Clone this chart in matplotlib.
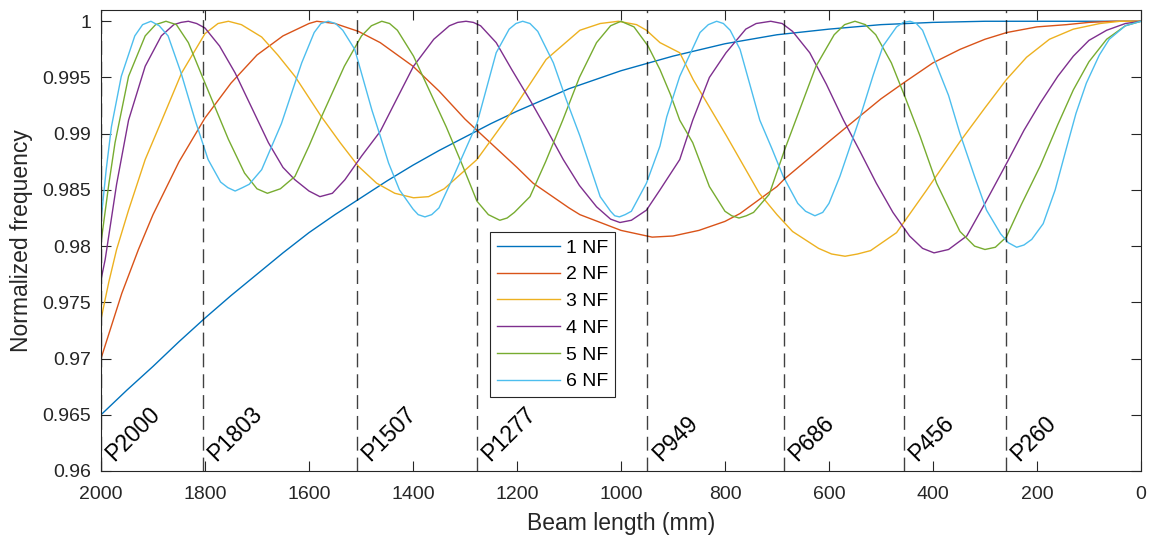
import numpy as np
import matplotlib
matplotlib.use("Agg")
import matplotlib.pyplot as plt

plt.rcParams['font.family'] = ['Liberation Sans', 'DejaVu Sans']

# ---- data (beam length in mm, normalized frequency) ----
x_nf1 = [2000, 1950, 1900, 1850, 1800, 1750, 1700, 1650, 1600, 1550, 1500, 1450,
         1400, 1350, 1300, 1250, 1200, 1100, 1000, 900, 800, 700, 600, 500, 400,
         300, 200, 100, 0]
y_nf1 = [0.9650, 0.9672, 0.9693, 0.9715, 0.9736, 0.9756, 0.9775, 0.9794, 0.9812,
         0.9828, 0.9843, 0.9858, 0.9872, 0.9885, 0.9897, 0.9909, 0.9920, 0.9940,
         0.9956, 0.9969, 0.9980, 0.9988, 0.9993, 0.9997, 0.9999, 1.0000, 1.0000,
         1.0000, 1.0000]

x_nf2 = [2000, 1960, 1928, 1900, 1850, 1800, 1750, 1700, 1650, 1600, 1585, 1550,
         1505, 1463, 1400, 1350, 1300, 1277, 1200, 1169, 1100, 1079, 1000, 940,
         900, 850, 800, 771, 700, 685, 600, 566, 500, 454, 400, 348, 300, 258,
         200, 143, 100, 50, 0]
y_nf2 = [0.9700, 0.9758, 0.9797, 0.9828, 0.9875, 0.9914, 0.9945, 0.9970, 0.9987,
         0.9998, 1.0000, 0.9998, 0.9991, 0.9981, 0.9960, 0.9938, 0.9913, 0.9903,
         0.9870, 0.9856, 0.9834, 0.9828, 0.9814, 0.9808, 0.9809, 0.9814, 0.9822,
         0.9829, 0.9853, 0.9860, 0.9893, 0.9906, 0.9931, 0.9946, 0.9963, 0.9975,
         0.9984, 0.9990, 0.9995, 0.9997, 0.9999, 1.0000, 1.0000]

x_nf3 = [2000, 1985, 1970, 1947, 1915, 1883, 1845, 1800, 1775, 1755, 1730, 1691,
         1660, 1627, 1576, 1540, 1505, 1470, 1435, 1399, 1370, 1340, 1277, 1208,
         1144, 1079, 1040, 1005, 970, 951, 925, 887, 861, 797, 734, 700, 670, 620,
         595, 569, 545, 520, 470, 412, 348, 300, 259, 220, 176, 130, 79, 40, 0]
y_nf3 = [0.9735, 0.9768, 0.9797, 0.9832, 0.9877, 0.9912, 0.9954, 0.9989, 0.9998,
         1.0000, 0.9997, 0.9986, 0.9970, 0.9951, 0.9915, 0.9892, 0.9871, 0.9856,
         0.9847, 0.9843, 0.9844, 0.9851, 0.9877, 0.9921, 0.9966, 0.9992, 0.9998,
         1.0000, 0.9997, 0.9992, 0.9981, 0.9972, 0.9948, 0.9898, 0.9847, 0.9828,
         0.9813, 0.9798, 0.9793, 0.9791, 0.9793, 0.9796, 0.9812, 0.9850, 0.9893,
         0.9923, 0.9948, 0.9968, 0.9984, 0.9993, 0.9998, 1.0000, 1.0000]

x_nf4 = [2000, 1992, 1970, 1947, 1915, 1884, 1860, 1846, 1832, 1816, 1800, 1772,
         1742, 1710, 1678, 1650, 1627, 1600, 1579, 1555, 1531, 1499, 1463, 1430,
         1399, 1360, 1330, 1314, 1298, 1284, 1270, 1240, 1210, 1175, 1143, 1111,
         1080, 1047, 1020, 1002, 980, 951, 925, 887, 862, 830, 798, 760, 740, 712,
         690, 670, 637, 605, 572, 540, 509, 477, 445, 420, 398, 370, 335, 300,
         258, 225, 194, 160, 130, 100, 66, 30, 0]
y_nf4 = [0.9770, 0.9788, 0.9855, 0.9912, 0.9960, 0.9987, 0.9997, 0.9999, 1.0000,
         0.9998, 0.9994, 0.9978, 0.9954, 0.9923, 0.9892, 0.9870, 0.9859, 0.9849,
         0.9844, 0.9847, 0.9859, 0.9880, 0.9902, 0.9932, 0.9960, 0.9984, 0.9996,
         0.9999, 1.0000, 0.9999, 0.9996, 0.9981, 0.9957, 0.9930, 0.9904, 0.9877,
         0.9854, 0.9835, 0.9824, 0.9821, 0.9823, 0.9832, 0.9850, 0.9877, 0.9912,
         0.9950, 0.9972, 0.9993, 0.9998, 1.0000, 0.9998, 0.9991, 0.9972, 0.9944,
         0.9912, 0.9884, 0.9856, 0.9830, 0.9809, 0.9798, 0.9794, 0.9797, 0.9809,
         0.9838, 0.9874, 0.9903, 0.9927, 0.9951, 0.9969, 0.9983, 0.9992, 0.9998,
         1.0000]

x_nf5 = [2000, 1985, 1973, 1947, 1915, 1895, 1875, 1855, 1832, 1800, 1755, 1724,
         1700, 1680, 1655, 1627, 1600, 1576, 1532, 1499, 1480, 1460, 1445, 1430,
         1399, 1370, 1336, 1305, 1277, 1255, 1233, 1219, 1205, 1175, 1145, 1112,
         1080, 1047, 1020, 1000, 975, 948, 925, 905, 887, 862, 830, 800, 787, 773,
         759, 745, 715, 685, 655, 625, 590, 570, 550, 530, 510, 480, 454, 425,
         393, 348, 320, 300, 280, 259, 230, 194, 160, 130, 100, 66, 30, 0]
y_nf5 = [0.9803, 0.9855, 0.9892, 0.9951, 0.9987, 0.9997, 1.0000, 0.9997, 0.9981,
         0.9945, 0.9895, 0.9865, 0.9851, 0.9847, 0.9851, 0.9862, 0.9889, 0.9915,
         0.9960, 0.9987, 0.9996, 1.0000, 0.9998, 0.9992, 0.9969, 0.9940, 0.9906,
         0.9872, 0.9840, 0.9828, 0.9823, 0.9825, 0.9830, 0.9844, 0.9875, 0.9912,
         0.9950, 0.9981, 0.9996, 1.0000, 0.9995, 0.9978, 0.9957, 0.9935, 0.9912,
         0.9892, 0.9853, 0.9831, 0.9827, 0.9825, 0.9827, 0.9830, 0.9846, 0.9886,
         0.9923, 0.9960, 0.9988, 0.9997, 1.0000, 0.9997, 0.9988, 0.9963, 0.9933,
         0.9898, 0.9856, 0.9813, 0.9800, 0.9797, 0.9799, 0.9808, 0.9837, 0.9871,
         0.9908, 0.9939, 0.9964, 0.9984, 0.9996, 1.0000]

x_nf6 = [2000, 1990, 1980, 1961, 1935, 1920, 1904, 1888, 1871, 1846, 1819, 1794,
         1770, 1756, 1742, 1728, 1715, 1691, 1653, 1614, 1590, 1577, 1563, 1549,
         1535, 1512, 1479, 1463, 1447, 1426, 1400, 1390, 1377, 1364, 1350, 1322,
         1300, 1277, 1240, 1215, 1202, 1189, 1175, 1160, 1130, 1105, 1079, 1040,
         1020, 1012, 1003, 992, 980, 951, 925, 912, 887, 848, 832, 816, 803, 790,
         771, 733, 710, 688, 660, 645, 627, 612, 600, 579, 540, 515, 496, 470,
         457, 444, 432, 420, 400, 370, 348, 320, 297, 270, 255, 239, 225, 210,
         188, 165, 144, 125, 105, 80, 61, 30, 0]
y_nf6 = [0.9823, 0.9868, 0.9906, 0.9951, 0.9987, 0.9997, 1.0000, 0.9996, 0.9987,
         0.9954, 0.9912, 0.9877, 0.9857, 0.9852, 0.9849, 0.9852, 0.9855, 0.9868,
         0.9909, 0.9963, 0.9990, 0.9998, 1.0000, 0.9998, 0.9992, 0.9975, 0.9921,
         0.9898, 0.9874, 0.9850, 0.9833, 0.9828, 0.9826, 0.9828, 0.9834, 0.9862,
         0.9885, 0.9909, 0.9972, 0.9993, 0.9998, 1.0000, 0.9998, 0.9991, 0.9963,
         0.9930, 0.9898, 0.9844, 0.9831, 0.9827, 0.9826, 0.9828, 0.9831, 0.9856,
         0.9889, 0.9915, 0.9951, 0.9990, 0.9997, 1.0000, 0.9998, 0.9992, 0.9975,
         0.9912, 0.9887, 0.9862, 0.9838, 0.9831, 0.9827, 0.9830, 0.9838, 0.9862,
         0.9915, 0.9952, 0.9978, 0.9995, 0.9999, 1.0000, 0.9998, 0.9992, 0.9969,
         0.9934, 0.9900, 0.9862, 0.9832, 0.9811, 0.9803, 0.9799, 0.9801, 0.9806,
         0.9820, 0.9850, 0.9886, 0.9918, 0.9945, 0.9970, 0.9984, 0.9996, 1.0000]

series_names = ['1 NF', '2 NF', '3 NF', '4 NF', '5 NF', '6 NF']
series_x = [x_nf1, x_nf2, x_nf3, x_nf4, x_nf5, x_nf6]
series_y = [y_nf1, y_nf2, y_nf3, y_nf4, y_nf5, y_nf6]
colors = ['#0072BD', '#D95319', '#EDB120', '#7E2F8E', '#77AC30', '#4DBEEE']

# positions of the marked points along the beam
point_pos = [2000, 1803, 1507, 1277, 949, 686, 456, 260]
point_labels = ['P2000', 'P1803', 'P1507', 'P1277', 'P949', 'P686', 'P456', 'P260']

xticks = list(range(0, 2001, 200))
yticks = [0.96, 0.965, 0.97, 0.975, 0.98, 0.985, 0.99, 0.995, 1.0]

# ---- plot ----
fig = plt.figure(figsize=(11.49, 5.39), dpi=100)
ax = fig.add_axes([0.0879, 0.1262, 0.9051, 0.8552])

for xs, ys, name, c in zip(series_x, series_y, series_names, colors):
    ax.plot(xs, ys, color=c, lw=1.0, label=name)

for p, lab in zip(point_pos, point_labels):
    ax.axvline(p, color='black', lw=1.0, ls=(0, (10, 5)), alpha=0.75)
    ax.annotate(lab, xy=(p, 0.9605), xytext=(12, 0), textcoords='offset points',
                rotation=45, rotation_mode='anchor', ha='left', va='bottom',
                fontsize=16.5, color='black')

ax.set_xlim(2000, 0)
ax.set_ylim(0.96, 1.001)
ax.set_xticks(xticks)
ax.set_yticks(yticks)
ax.set_yticklabels([f'{v:g}' for v in yticks])

ax.tick_params(direction='in', length=7, width=0.8, top=True, right=True,
               labelsize=14, colors='#262626')
ax.tick_params(axis='x', pad=11)
ax.tick_params(axis='y', pad=7)
for s in ax.spines.values():
    s.set_color('#262626')
    s.set_linewidth(0.8)

ax.set_xlabel('Beam length (mm)', fontsize=16.5, color='#262626')
ax.set_ylabel('Normalized frequency', fontsize=16.5, color='#262626')
ax.xaxis.set_label_coords(0.5, -0.088)
ax.yaxis.set_label_coords(-0.065, 0.5)

leg = ax.legend(loc='lower left', bbox_to_anchor=(0.374, 0.16), fontsize=14,
                fancybox=False, framealpha=1, edgecolor='#262626',
                handlelength=3.25, borderpad=0.35, labelspacing=0.47,
                handletextpad=0.3, borderaxespad=0)
leg.get_frame().set_linewidth(0.8)

fig.savefig('out.png', dpi=100)
